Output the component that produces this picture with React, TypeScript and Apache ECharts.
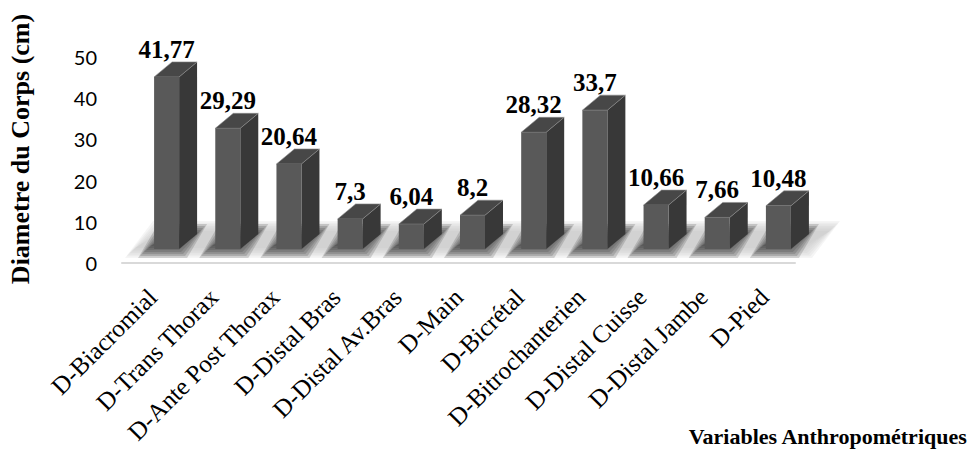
import React, { useEffect, useRef } from "react";
import * as echarts from "echarts";

// Anthropometric body diameters (cm)
const categories = [
  "D-Biacromial",
  "D-Trans Thorax",
  "D-Ante Post Thorax",
  "D-Distal Bras",
  "D-Distal Av.Bras",
  "D-Main",
  "D-Bicrétal",
  "D-Bitrochanterien",
  "D-Distal Cuisse",
  "D-Distal Jambe",
  "D-Pied",
];
const diameters = [41.77, 29.29, 20.64, 7.3, 6.04, 8.2, 28.32, 33.7, 10.66, 7.66, 10.48];

const yMin = 0;
const yMax = 50;
const yStep = 10;

const yTitle = "Diametre du Corps (cm)";
const xTitle = "Variables Anthropométriques";

// 3D column look
const BAR_W = 25;
const DEPTH_X = 18;
const DEPTH_Y = 15;
const SHIFT_X = 14;
const SHIFT_Y = 14;

const SERIF = '"Liberation Serif", "Times New Roman", serif';

const fmt = (v: number) => String(v).replace(".", ",");

type Pt = [number, number];

// A floor quad drawn as stacked translucent layers, giving a soft edge
function softQuad(fl: Pt, fr: Pt, br: Pt, bl: Pt, rgb: string, spread: number, steps: number, alpha: number) {
  const out: any[] = [];
  for (let j = steps; j >= 0; j--) {
    const e = spread * (j / steps) - spread / 2;
    out.push({
      type: "polygon",
      silent: true,
      shape: {
        points: [
          [fl[0] - e, fl[1] + e],
          [fr[0] + e, fr[1] + e],
          [br[0] + e, br[1] - e],
          [bl[0] - e, bl[1] - e],
        ],
      },
      style: { fill: `rgba(${rgb},${alpha})`, stroke: null },
    });
  }
  return out;
}

export default function App() {
  const ref = useRef<HTMLDivElement>(null);

  useEffect(() => {
    if (!ref.current) return;
    const chart = echarts.init(ref.current, undefined, { renderer: "svg" });

    const floorItem = (params: any, api: any) => {
      const band = api.size([1, 0])[0];
      const [xl, y0] = api.coord([0, 0]);
      const [xr] = api.coord([categories.length - 1, 0]);
      const left = xl - band / 2;
      const right = xr + band / 2;
      const fy = y0 - 10;
      const by = y0 - 37;
      return {
        type: "group",
        children: softQuad(
          [left + 8, fy],
          [right + 12, fy],
          [right + 40, by],
          [left + 36, by],
          "190,190,190",
          10,
          6,
          0.16
        ),
      };
    };

    const shadowItem = (params: any, api: any) => {
      const idx = api.value(0);
      const [cx, y0] = api.coord([idx, 0]);
      const x0 = cx + SHIFT_X - BAR_W / 2;
      const x1 = x0 + BAR_W;
      const fy = y0 - 11;
      const by = y0 - 33;
      return {
        type: "group",
        children: softQuad(
          [x0 - 10, fy],
          [x1 + 2, fy],
          [x1 + 22, by],
          [x0 + 10, by],
          "60,60,60",
          12,
          6,
          0.2
        ),
      };
    };

    const barItem = (params: any, api: any) => {
      const idx = api.value(0);
      const v = api.value(1);
      const [cx, y0] = api.coord([idx, 0]);
      const [, yv] = api.coord([idx, v]);
      const x0 = cx + SHIFT_X - BAR_W / 2;
      const x1 = x0 + BAR_W;
      const yb = y0 - SHIFT_Y;
      const yt = yv - SHIFT_Y;
      return {
        type: "group",
        children: [
          {
            type: "polygon",
            shape: {
              points: [
                [x1, yt],
                [x1 + DEPTH_X, yt - DEPTH_Y],
                [x1 + DEPTH_X, yb - DEPTH_Y],
                [x1, yb],
              ],
            },
            style: { fill: "#383838" },
          },
          {
            type: "polygon",
            shape: {
              points: [
                [x0, yt],
                [x1, yt],
                [x1 + DEPTH_X, yt - DEPTH_Y],
                [x0 + DEPTH_X, yt - DEPTH_Y],
              ],
            },
            style: { fill: "#474747", stroke: "#8c8c8c", lineWidth: 0.6 },
          },
          {
            type: "rect",
            shape: { x: x0, y: yt, width: BAR_W, height: yb - yt },
            style: { fill: "#595959" },
          },
          {
            type: "text",
            x: x0 + BAR_W / 2,
            y: yt - DEPTH_Y,
            style: {
              text: fmt(v),
              align: "center",
              verticalAlign: "bottom",
              fontFamily: SERIF,
              fontWeight: "bold",
              fontSize: 25,
              fill: "#000",
            },
          },
        ],
      };
    };

    const points = diameters.map((v, i) => [i, v]);

    chart.setOption({
      animation: false,
      backgroundColor: "#ffffff",
      grid: { left: 122, right: 175, top: 57, bottom: 189, containLabel: false },
      xAxis: {
        type: "category",
        data: categories,
        boundaryGap: true,
        axisLine: { show: true, lineStyle: { color: "#d9d9d9", width: 2 } },
        axisTick: { show: false },
        axisLabel: {
          interval: 0,
          rotate: 45,
          margin: 30,
          color: "#000",
          fontFamily: SERIF,
          fontSize: 25,
        },
      },
      yAxis: {
        type: "value",
        min: yMin,
        max: yMax,
        interval: yStep,
        axisLine: { show: false },
        axisTick: { show: false },
        splitLine: { show: false },
        axisLabel: {
          margin: 25,
          color: "#000",
          fontFamily: "Lato, 'Noto Sans', sans-serif",
          fontSize: 20,
        },
      },
      series: [
        {
          type: "custom",
          name: "floor",
          data: [[0, 0]],
          renderItem: floorItem,
          silent: true,
          z: 1,
        },
        {
          type: "custom",
          name: "shadows",
          data: points,
          renderItem: shadowItem,
          silent: true,
          z: 2,
        },
        {
          type: "custom",
          name: "Diametre",
          data: points,
          renderItem: barItem,
          encode: { x: 0, y: 1 },
          z: 3,
        },
      ],
      graphic: [
        {
          type: "text",
          x: 20,
          y: 149,
          rotation: Math.PI / 2,
          style: {
            text: yTitle,
            align: "center",
            verticalAlign: "middle",
            fontFamily: SERIF,
            fontWeight: "bold",
            fontSize: 26,
            fill: "#000",
          },
        },
        {
          type: "text",
          right: 2,
          top: 425,
          style: {
            text: xTitle,
            fontFamily: SERIF,
            fontWeight: "bold",
            fontSize: 22,
            fill: "#000",
          },
        },
      ],
    });

    return () => chart.dispose();
  }, []);

  return (
    <div
      ref={ref}
      style={{ position: "fixed", left: 0, top: 0, width: 970, height: 452 }}
    />
  );
}
